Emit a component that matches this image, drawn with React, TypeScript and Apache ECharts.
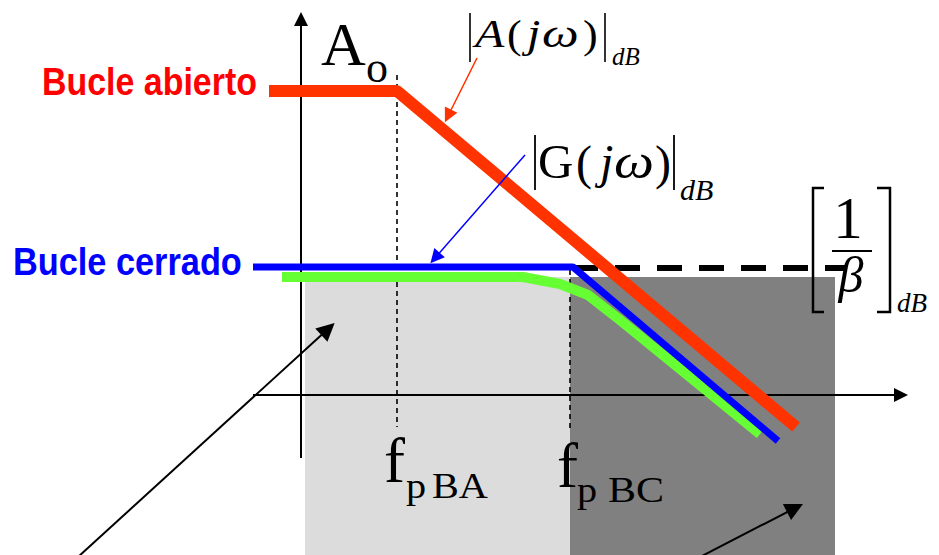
import React, { useEffect, useRef } from "react";
import * as echarts from "echarts";

// Diagram coordinates: x = frequency units (origin on vertical axis), y = dB units (origin on horizontal axis)
const openLoop: number[][] = [[-32, 304], [96, 304], [495, -32]];
const closedLoop: number[][] = [[-48, 128], [272, 128], [477, -46]];
const realClosed: number[][] = [[-19, 118], [222, 118], [259, 111], [287, 100], [319, 75], [459, -39]];
const betaLevel: number[][] = [[272, 127], [546, 127]];
const fpBAMark: number[][] = [[96, 320], [96, -32]];
const fpBCMark: number[][] = [[269, 125], [269, -37]];
// bands: [x0, yTop, x1, yBottom]
const bands: number[][] = [[4, 118, 269, -160], [269, 118, 534, -160]];
const bandColors = ["#dcdcdc", "#808080"];
const axisArrows: number[][][] = [[[0, -63], [0, 376]], [[-48, 0], [600, 0]]];
const labelArrows: { coords: number[][]; color: string }[] = [
  { coords: [[176, 337], [147, 279]], color: "#ff3300" },
  { coords: [[224, 240], [134, 137]], color: "#0000ff" },
];
const pointerArrows: number[][][] = [[[-223, -162], [27, 66]], [[399, -162], [494, -113]]];

const SERIF = '"Liberation Serif", "Times New Roman", serif';
const SANS = '"Liberation Sans", Arial, sans-serif';

function t(text: string, x: number, baseline: number, size: number, o: any = {}) {
  const align = o.align || "left";
  return {
    type: "text",
    x,
    y: baseline - 0.34 * size,
    scaleX: o.sx || 1,
    z: 100,
    silent: true,
    style: {
      text,
      x: 0,
      y: 0,
      fill: o.color || "#000",
      fontSize: size,
      fontFamily: o.family || SERIF,
      fontStyle: o.italic ? "italic" : "normal",
      fontWeight: o.bold ? "bold" : "normal",
      align,
      textAlign: align,
      verticalAlign: "middle",
      textVerticalAlign: "middle",
    },
  };
}

function ln(x1: number, y1: number, x2: number, y2: number, w = 2) {
  return { type: "line", z: 100, silent: true, shape: { x1, y1, x2, y2 }, style: { stroke: "#000", lineWidth: w } };
}

function pl(points: number[][], w = 2.5) {
  return { type: "polyline", z: 100, silent: true, shape: { points }, style: { stroke: "#000", lineWidth: w, fill: null } };
}

export default function App() {
  const ref = useRef<HTMLDivElement>(null);
  useEffect(() => {
    const chart = echarts.init(ref.current!, null, { renderer: "svg" });
    const graphicEls: any[] = [
      t("Bucle abierto", 42, 95, 39, { bold: true, color: "#ff0000", family: SANS, sx: 0.87 }),
      t("Bucle cerrado", 13, 275, 39, { bold: true, color: "#0000ff", family: SANS, sx: 0.88 }),
      t("A", 321, 65, 62),
      t("o", 366, 82, 44),
      // |A(jw)|dB
      ln(470, 13, 470, 62, 1.6),
      t("A", 475, 47, 40, { italic: true, sx: 1.2 }),
      t("(", 507, 48, 40, { sx: 1.1 }),
      t("j", 527, 47, 40, { italic: true, sx: 1.2 }),
      t("ω", 542, 47, 40, { italic: true, sx: 1.3 }),
      t(")", 583, 48, 40, { sx: 1.1 }),
      ln(605, 13, 605, 62, 1.6),
      t("dB", 612, 65, 25, { italic: true }),
      // |G(jw)|dB
      ln(535, 135, 535, 190, 1.8),
      t("G", 538, 178, 48, { sx: 1.02 }),
      t("(", 576, 179, 48),
      t("j", 600, 178, 48, { italic: true }),
      t("ω", 614, 178, 48, { italic: true, sx: 1.18 }),
      t(")", 655, 179, 48),
      ln(674, 135, 674, 190, 1.8),
      t("dB", 680, 200, 30, { italic: true }),
      // [1/beta]dB
      pl([[824, 188], [813, 188], [813, 312], [824, 312]]),
      pl([[877, 188], [890, 188], [890, 312], [877, 312]]),
      t("1", 848, 238, 59, { align: "center" }),
      ln(832, 251, 872, 251, 2),
      t("β", 851, 292, 50, { italic: true, align: "center" }),
      t("dB", 897, 312, 27, { italic: true }),
      // f p BA / f p BC
      t("f", 384, 482, 63),
      t("p", 406, 498, 35, { sx: 1.15 }),
      t("BA", 432, 498, 35, { sx: 1.15 }),
      t("f", 557, 487, 63),
      t("p", 577, 502, 35, { sx: 1.15 }),
      t("BC", 608, 502, 35, { sx: 1.2 }),
    ];

    const option: any = {
      animation: false,
      grid: { left: 0, right: 0, top: 0, bottom: 0 },
      xAxis: { type: "value", min: -301, max: 638, show: false },
      yAxis: { type: "value", min: -160, max: 395, show: false },
      series: [
        {
          type: "custom",
          z: 1,
          silent: true,
          data: bands,
          renderItem: (params: any, api: any) => {
            const p0 = api.coord([api.value(0), api.value(1)]);
            const p1 = api.coord([api.value(2), api.value(3)]);
            return {
              type: "rect",
              shape: { x: p0[0], y: p0[1], width: p1[0] - p0[0], height: p1[1] - p0[1] },
              style: { fill: bandColors[params.dataIndex] },
            };
          },
        },
        {
          type: "line", z: 2, silent: true, symbol: "none", data: fpBAMark,
          lineStyle: { color: "#000", width: 1.6, type: [5, 4] },
        },
        {
          type: "line", z: 2, silent: true, symbol: "none", data: fpBCMark,
          lineStyle: { color: "#000", width: 1.6, type: [5, 4] },
        },
        {
          type: "lines", coordinateSystem: "cartesian2d", z: 3, silent: true,
          symbol: ["none", "triangle"], symbolSize: [15, 14],
          lineStyle: { color: "#000", width: 2, opacity: 1 },
          data: axisArrows.map((c) => ({ coords: c })),
        },
        {
          type: "line", z: 4, silent: true, symbol: "none", data: realClosed,
          lineStyle: { color: "#66ff33", width: 10, join: "round" },
        },
        {
          type: "line", z: 5, silent: true, symbol: "none", data: betaLevel,
          lineStyle: { color: "#000", width: 6, type: [25, 17] },
        },
        {
          type: "line", z: 5, silent: true, symbol: "none", data: closedLoop,
          lineStyle: { color: "#0000ff", width: 7, join: "bevel" },
        },
        {
          type: "line", z: 6, silent: true, symbol: "none", data: openLoop,
          lineStyle: { color: "#ff3300", width: 12, join: "bevel" },
        },
        {
          type: "lines", coordinateSystem: "cartesian2d", z: 7, silent: true,
          symbol: ["none", "triangle"], symbolSize: [10, 14],
          lineStyle: { width: 1.5, opacity: 1 },
          data: labelArrows.map((a) => ({ coords: a.coords, lineStyle: { color: a.color, width: 1.5 } })),
        },
        {
          type: "lines", coordinateSystem: "cartesian2d", z: 7, silent: true,
          symbol: ["none", "triangle"], symbolSize: [12, 18],
          lineStyle: { color: "#000", width: 2, opacity: 1 },
          data: pointerArrows.map((c) => ({ coords: c })),
        },
      ],
      graphic: { elements: graphicEls },
    };
    chart.setOption(option);
    return () => chart.dispose();
  }, []);
  return (
    <div
      ref={ref}
      style={{ position: "fixed", left: 0, top: 0, width: 939, height: 555, background: "#fff" }}
    />
  );
}
